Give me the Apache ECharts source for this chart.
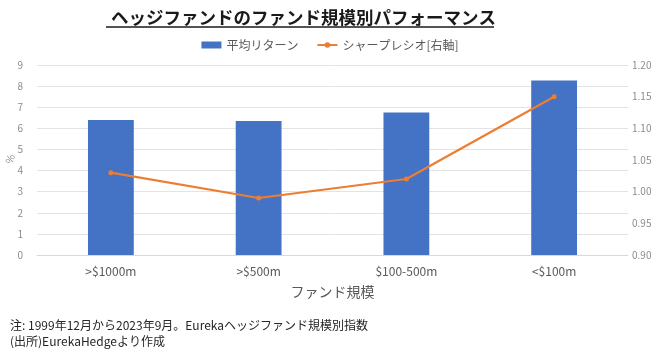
<!DOCTYPE html>
<html>
<head>
<meta charset="utf-8">
<script src="https://cdn.jsdelivr.net/npm/echarts@6/dist/echarts.min.js"></script>
<style>
  html, body { margin: 0; padding: 0; background: #fff; }
  #main { width: 660px; height: 352px; }
</style>
</head>
<body>
<div id="main"></div>
<script>
const FONT = '"Noto Sans CJK JP", "Noto Sans", sans-serif';

const categories = ['>$1000m', '>$500m', '$100-500m', '<$100m'];
const avgReturn = [6.4, 6.35, 6.75, 8.27];
const sharpe = [1.03, 0.99, 1.02, 1.15];

const chart = echarts.init(document.getElementById('main'));

const option = {
  animation: false,
  title: {
    text: 'ヘッジファンドのファンド規模別パフォーマンス',
    left: 106,
    top: 4,
    textStyle: { fontFamily: FONT, fontSize: 17.5, fontWeight: 'bold', color: '#1a1a1a' }
  },
  graphic: [
    { type: 'line', shape: { x1: 106, y1: 27, x2: 494, y2: 27 }, style: { stroke: '#1a1a1a', lineWidth: 1.3 } },
    {
      type: 'text', x: 10, y: 159, rotation: Math.PI / 2.5,
      style: { text: '%', font: '10px "Noto Sans CJK JP", sans-serif', fill: '#8c8c8c', align: 'center', verticalAlign: 'middle' }
    },
    {
      type: 'text', left: 10, top: 317,
      style: {
        text: '注: 1999年12月から2023年9月。Eurekaヘッジファンド規模別指数\n(出所)EurekaHedgeより作成',
        font: '12px "Noto Sans CJK JP", sans-serif', fill: '#262626', lineHeight: 16
      }
    }
  ],
  legend: {
    top: 34,
    left: 'center',
    itemGap: 18,
    itemWidth: 20,
    itemHeight: 7,
    textStyle: { fontFamily: FONT, fontSize: 12, color: '#595959' },
    data: [
      { name: '平均リターン', icon: 'rect' },
      { name: 'シャープレシオ[右軸]' }
    ]
  },
  grid: { left: 37, right: 32, top: 65, bottom: 97, containLabel: false, outerBoundsMode: 'none' },
  xAxis: {
    type: 'category',
    data: categories,
    name: 'ファンド規模',
    nameLocation: 'middle',
    nameGap: 30,
    nameTextStyle: { fontFamily: FONT, fontSize: 14, color: '#595959' },
    axisLine: { lineStyle: { color: '#d9d9d9' } },
    axisTick: { show: false },
    axisLabel: { fontFamily: FONT, fontSize: 12, color: '#595959', margin: 10 }
  },
  yAxis: [
    {
      type: 'value',
      min: 0, max: 9, interval: 1,
      axisLabel: { fontFamily: FONT, fontSize: 10, color: '#8c8c8c', margin: 14 },
      splitLine: { lineStyle: { color: '#e3e3e3' } }
    },
    {
      type: 'value',
      min: 0.9, max: 1.2, interval: 0.05,
      axisLabel: {
        fontFamily: FONT, fontSize: 10, color: '#8c8c8c', margin: 4,
        formatter: v => v.toFixed(2)
      },
      splitLine: { show: false }
    }
  ],
  series: [
    {
      name: '平均リターン',
      type: 'bar',
      data: avgReturn,
      barWidth: '31%',
      itemStyle: { color: '#4472c4' }
    },
    {
      name: 'シャープレシオ[右軸]',
      type: 'line',
      yAxisIndex: 1,
      data: sharpe,
      symbol: 'circle',
      symbolSize: 5,
      lineStyle: { color: '#ed7d31', width: 2.2 },
      itemStyle: { color: '#ed7d31' }
    }
  ]
};

chart.setOption(option);
</script>
</body>
</html>
